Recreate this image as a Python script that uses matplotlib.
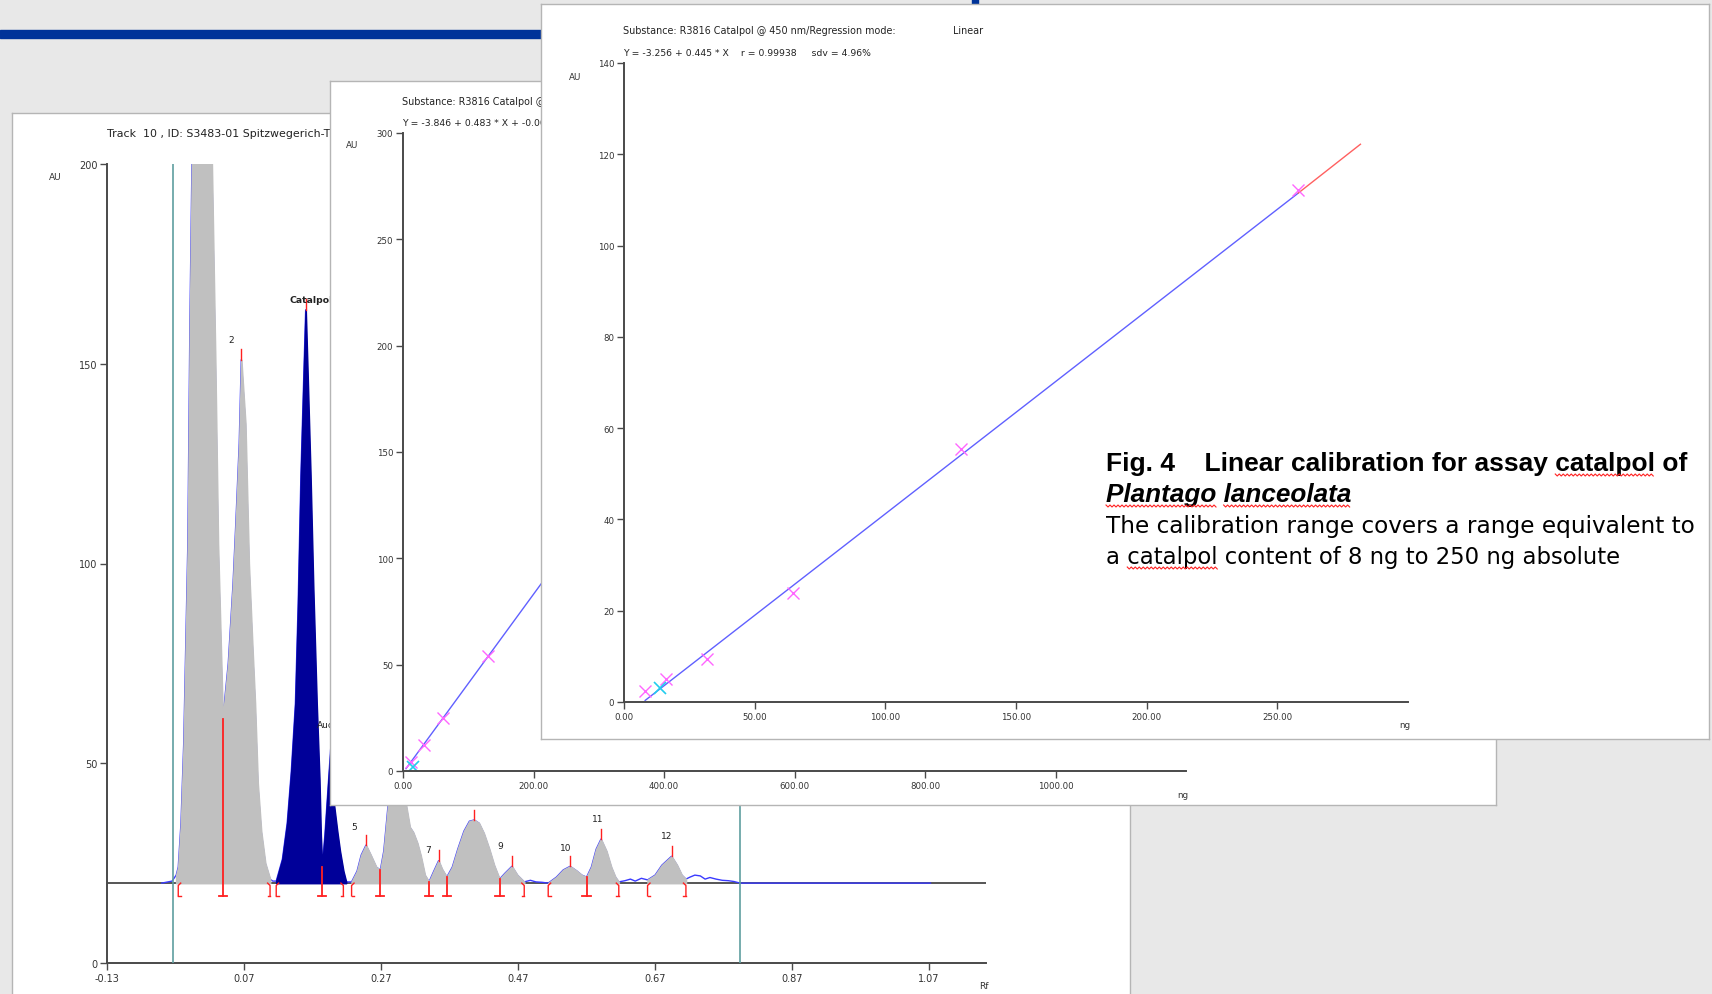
import matplotlib
matplotlib.use("Agg")
import matplotlib.pyplot as plt
import numpy as np
from matplotlib.patches import Rectangle
from matplotlib.lines import Line2D

# ---------------- data ----------------
# Chromatogram (track 10)
rf_ticks = [-0.13, 0.07, 0.27, 0.47, 0.67, 0.87, 1.07]
rf_tick_labels = ["-0.13", "0.07", "0.27", "0.47", "0.67", "0.87", "1.07"]
au_ticks = [0, 50, 100, 150, 200]
au_tick_labels = ["0", "50", "100", "150", "200"]

trace_rf = [-0.050, -0.035, -0.029, -0.026, -0.022, -0.018, -0.012, -0.009, -0.006, 0.001,
            0.010, 0.016, 0.023, 0.028, 0.032, 0.039, 0.047, 0.054, 0.058, 0.063,
            0.066, 0.072, 0.077, 0.082, 0.086, 0.090, 0.095, 0.101, 0.108, 0.112,
            0.117, 0.126, 0.133, 0.139, 0.145, 0.149, 0.153, 0.157, 0.160, 0.163,
            0.167, 0.171, 0.176, 0.180, 0.182, 0.184, 0.188, 0.193, 0.197, 0.201,
            0.206, 0.210, 0.215, 0.219, 0.227, 0.235, 0.241, 0.248, 0.255, 0.263,
            0.269, 0.274, 0.280, 0.286, 0.293, 0.301, 0.307, 0.312, 0.317, 0.323,
            0.328, 0.334, 0.340, 0.347, 0.354, 0.359, 0.366, 0.374, 0.382, 0.391,
            0.399, 0.406, 0.413, 0.420, 0.428, 0.435, 0.443, 0.451, 0.461, 0.469,
            0.479, 0.488, 0.496, 0.505, 0.514, 0.526, 0.536, 0.546, 0.556, 0.563,
            0.570, 0.577, 0.584, 0.591, 0.599, 0.606, 0.612, 0.617, 0.626, 0.634,
            0.641, 0.650, 0.659, 0.670, 0.680, 0.694, 0.702, 0.709, 0.715, 0.721,
            0.728, 0.736, 0.743, 0.750, 0.759, 0.768, 0.777, 0.785, 0.794, 1.072]
trace_au = [20.0, 20.5, 22.0, 24.0, 35.0, 55.0, 105.0, 160.0, 200.0, 235.0,
            240.0, 232.0, 200.0, 151.0, 105.0, 61.0, 75.0, 95.0, 110.0, 130.0,
            151.0, 135.0, 100.0, 80.0, 65.0, 45.0, 33.0, 25.0, 21.0, 20.5,
            20.5, 26.0, 35.0, 48.0, 65.0, 90.0, 122.0, 146.0, 163.5, 146.0,
            122.0, 94.0, 65.0, 46.0, 32.0, 24.0, 32.0, 45.0, 55.0, 40.0,
            33.0, 28.0, 23.0, 20.3, 20.3, 23.0, 27.0, 29.5, 27.0, 24.0,
            23.3, 28.0, 39.0, 50.0, 56.0, 48.0, 39.0, 34.0, 32.7, 30.0,
            26.8, 22.0, 20.3, 23.0, 25.6, 23.5, 21.5, 24.0, 28.5, 33.0,
            35.5, 35.8, 35.0, 32.5, 28.5, 24.5, 21.0, 22.5, 24.2, 22.0,
            20.3, 20.7, 20.3, 20.2, 20.0, 21.5, 23.3, 24.2, 23.0, 22.0,
            21.5, 24.0, 28.5, 31.0, 28.0, 24.0, 21.5, 20.3, 20.6, 21.0,
            20.5, 21.2, 20.8, 22.0, 24.5, 26.7, 24.5, 22.0, 21.0, 21.5,
            22.0, 21.8, 21.0, 21.4, 21.0, 20.7, 20.6, 20.4, 20.0, 20.0]
baseline_au = 20.0
gray_ranges = [(-0.029, 0.108), (0.227, 0.479), (0.514, 0.617), (0.659, 0.715)]
navy_ranges = [(0.117, 0.219)]
apex_rf = [0.066, 0.160, 0.197, 0.248, 0.293, 0.354, 0.406, 0.461, 0.546, 0.591, 0.694]
apex_au = [151.0, 163.5, 55.0, 29.5, 56.0, 25.6, 35.8, 24.2, 24.2, 31.0, 26.7]
valley_rf = [0.039, 0.184, 0.269, 0.340, 0.366, 0.443, 0.570]
valley_au = [61.0, 24.0, 23.3, 20.3, 21.5, 21.0, 21.5]
start_rf = [-0.026, 0.117, 0.227, 0.514, 0.659]
end_rf = [0.108, 0.215, 0.479, 0.617, 0.715]
track_bounds = [-0.034, 0.794]
peak_names = ["2", "Catalpol", "Aucubin", "5", "6", "7", "8", "9", "10", "11", "12"]
name_rf = [0.047, 0.136, 0.176, 0.227, 0.285, 0.334, 0.400, 0.440, 0.531, 0.578, 0.679]
name_au = [156.0, 166.0, 59.6, 34.1, 62.0, 28.4, 43.0, 29.4, 29.0, 36.2, 31.8]

# Calibration panel (middle, 0-1200 ng)
cal2_x_ticks = [0, 200, 400, 600, 800, 1000]
cal2_y_ticks = [0, 50, 100, 150, 200, 250, 300]
cal2_std_x = [11.5, 31.6, 61.8, 130.4]
cal2_std_y = [4.0, 12.4, 25.1, 53.9]
cal2_smp_x = [16.0]
cal2_smp_y = [2.0]
cal2_line_x = [4.6, 600.0]
cal2_line_y = [1.1, 251.0]

# Calibration panel (front, 0-300 ng)
cal3_x_ticks = [0, 50, 100, 150, 200, 250]
cal3_y_ticks = [0, 20, 40, 60, 80, 100, 120, 140]
cal3_std_x = [8.1, 16.0, 31.8, 64.8, 129.1, 258.0]
cal3_std_y = [2.4, 5.0, 9.5, 23.9, 55.5, 112.2]
cal3_smp_x = [13.7]
cal3_smp_y = [3.0]
cal3_fit_x = [8.1, 258.0]
cal3_fit_y = [0.35, 111.5]
cal3_ext_x = [258.0, 281.8]
cal3_ext_y = [111.5, 122.2]

caption_lines = ["Fig. 4    Linear calibration for assay catalpol of",
                 "Plantago lanceolata",
                 "The calibration range covers a range equivalent to",
                 "a catalpol content of 8 ng to 250 ng absolute"]

# ---------------- figure ----------------
W, H = 1712, 995
fig = plt.figure(figsize=(W / 100, H / 100), dpi=100, facecolor='#e8e8e8')
SMALL = ['DejaVu Sans']
renderer = fig.canvas.get_renderer()


def box(x0, y0, x1, y1):
    return [x0 / W, 1 - y1 / H, (x1 - x0) / W, (y1 - y0) / H]


def fx(x):
    return x / W


def fy(y):
    return 1 - y / H


def panel(x0, y0, x1, y1, z):
    a = fig.add_axes(box(x0, y0, x1, y1), zorder=z)
    a.set_facecolor('white')
    a.set_xticks([])
    a.set_yticks([])
    for s in a.spines.values():
        s.set_color('#b5b5b5')
        s.set_linewidth(1.0)
    return a


def style_axes(a, lsize):
    for s in ['top', 'right']:
        a.spines[s].set_visible(False)
    for s in ['left', 'bottom']:
        a.spines[s].set_color('#4a4a4a')
        a.spines[s].set_linewidth(1.4)
    a.patch.set_alpha(0)
    a.tick_params(direction='out', length=5, width=1, colors='#4a4a4a',
                  labelcolor='#333333', labelsize=lsize, pad=2)
    for lab in a.get_xticklabels() + a.get_yticklabels():
        lab.set_family(SMALL)


def fitted_text(x, y, s, target, measure=None, z=1, **kw):
    t = fig.text(fx(x), fy(y), measure if measure else s, fontsize=7, zorder=z, **kw)
    bb = t.get_window_extent(renderer)
    t.set_fontsize(7 * target / bb.width)
    t.set_text(s)
    return t


# header bar decorations
fig.add_artist(Rectangle((0, fy(39)), fx(700), (39 - 31) / H, transform=fig.transFigure,
                         color='#003399', zorder=0.5))
fig.add_artist(Rectangle((fx(972), fy(5)), fx(6), 5 / H, transform=fig.transFigure,
                         color='#003399', zorder=0.5))

# ---- panel 3 header sizes (reference for panel 2 too) ----
h1 = fig.text(0, 0, "Substance: R3816 Catalpol @ 450 nm/Regression mode:", fontsize=7, family=SMALL)
HS1 = 7 * 275 / h1.get_window_extent(renderer).width
h1.remove()
h2 = fig.text(0, 0, "Y = -3.256 + 0.445 * X    r = 0.99938     sdv = 4.96%", fontsize=7, family=SMALL)
HS2 = 7 * 247 / h2.get_window_extent(renderer).width
h2.remove()

# ---- panel 1 : chromatogram ----
panel(12, 114, 1130, 1010, 1)
fitted_text(107, 134, "Track  10 , ID: S3483-01 Spitzwegerich-Tinktur", 222,
            measure="Track  10 , ID: S3483-01 Spitzwegerich-T", z=1.5,
            family=SMALL, color='#222222', va='center')
fig.text(fx(49), fy(178), "AU", fontsize=6.5, family=SMALL, color='#333333', va='center', zorder=1.5)
fig.text(fx(979), fy(987), "Rf", fontsize=6.5, family=SMALL, color='#333333', va='center', zorder=1.5)

ax1 = fig.add_axes(box(107, 165, 986, 964), zorder=2)
ax1.set_xlim(-0.13, 1.153)
ax1.set_ylim(0, 200)
ax1.set_xticks(rf_ticks)
ax1.set_xticklabels(rf_tick_labels)
ax1.set_yticks(au_ticks)
ax1.set_yticklabels(au_tick_labels)
style_axes(ax1, 7)

trx = np.array(trace_rf)
tra = np.array(trace_au)
ax1.axhline(baseline_au, color='#555555', lw=1.4, zorder=1)
ax1.plot(trx, tra, color='#3a3aff', lw=1.0, zorder=2)
for a0, a1 in gray_ranges:
    m = (trx >= a0) & (trx <= a1)
    ax1.fill_between(trx, tra, baseline_au, where=m, facecolor='#c0c0c0', edgecolor='#c0c0c0',
                     lw=1.2, zorder=3)
for a0, a1 in navy_ranges:
    m = (trx >= a0) & (trx <= a1)
    ax1.fill_between(trx, tra, baseline_au, where=m, facecolor='#000099', edgecolor='#000099',
                     lw=1.2, zorder=3)
for b in track_bounds:
    ax1.axvline(b, color='#5f9ea0', lw=1.2, zorder=4)

RED = '#ff2020'
low = baseline_au - 3.2
foot = 0.006
for r, a in zip(apex_rf, apex_au):
    ax1.plot([r, r], [a, a + 2.6], color=RED, lw=1.0, zorder=5)
for r, a in zip(valley_rf, valley_au):
    ax1.plot([r, r], [a, low], color=RED, lw=1.3, zorder=5)
    ax1.plot([r - foot, r + foot], [low, low], color=RED, lw=1.3, zorder=5)
for r in start_rf:
    ax1.plot([r + foot * 0.6, r, r], [baseline_au, baseline_au - 0.6, low], color=RED, lw=1.0, zorder=5)
    ax1.plot([r, r + foot * 0.6], [low, low], color=RED, lw=1.0, zorder=5)
for r in end_rf:
    ax1.plot([r - foot * 0.6, r, r], [baseline_au, baseline_au - 0.6, low], color=RED, lw=1.0, zorder=5)
    ax1.plot([r, r - foot * 0.6], [low, low], color=RED, lw=1.0, zorder=5)
for nm, r, a in zip(peak_names, name_rf, name_au):
    bold = nm == 'Catalpol'
    ax1.text(r, a, nm, fontsize=6.7 if bold else 6.5, family=SMALL, color='#222222',
             ha='left', va='center', fontweight='bold' if bold else 'normal',
             clip_on=False, zorder=6)

# ---- panel 2 : calibration 0-1200 ng ----
panel(330, 82, 1496, 806, 3)
fig.text(fx(402), fy(102), "Substance: R3816 Catalpol @ 450 nm/Regression mode:", fontsize=HS1,
         family=SMALL, color='#222222', va='center', zorder=3.5)
fig.text(fx(402), fy(123), "Y = -3.846 + 0.483 * X + -0.000046 * X\u00b2   r = 0.99962", fontsize=HS2,
         family=SMALL, color='#222222', va='center', zorder=3.5)
fig.text(fx(346), fy(146), "AU", fontsize=6.3, family=SMALL, color='#333333', va='center', zorder=3.5)
fig.text(fx(1177), fy(796), "ng", fontsize=6.3, family=SMALL, color='#333333', va='center', zorder=3.5)

ax2 = fig.add_axes(box(403, 134, 1186, 772), zorder=4)
ax2.set_xlim(0, 1200)
ax2.set_ylim(0, 300)
ax2.set_xticks(cal2_x_ticks)
ax2.set_xticklabels([f"{v:.2f}" for v in cal2_x_ticks])
ax2.set_yticks(cal2_y_ticks)
ax2.set_yticklabels([str(v) for v in cal2_y_ticks])
style_axes(ax2, 6.2)
ax2.plot(cal2_line_x, cal2_line_y, color='#6060ff', lw=1.0)
ax2.plot(cal2_std_x, cal2_std_y, 'x', color='#ff66ff', ms=8, mew=1.0)
ax2.plot(cal2_smp_x, cal2_smp_y, 'x', color='#22ccee', ms=8, mew=1.2)

# ---- panel 3 : calibration 0-300 ng ----
panel(541, 5, 1709, 740, 5)
fig.text(fx(623), fy(31), "Substance: R3816 Catalpol @ 450 nm/Regression mode:", fontsize=HS1,
         family=SMALL, color='#222222', va='center', zorder=5.5)
fig.text(fx(953), fy(31), "Linear", fontsize=HS1, family=SMALL, color='#222222', va='center', zorder=5.5)
fig.text(fx(623), fy(53), "Y = -3.256 + 0.445 * X    r = 0.99938     sdv = 4.96%", fontsize=HS2,
         family=SMALL, color='#222222', va='center', zorder=5.5)
fig.text(fx(569), fy(78), "AU", fontsize=6.3, family=SMALL, color='#333333', va='center', zorder=5.5)
fig.text(fx(1399), fy(725), "ng", fontsize=6.3, family=SMALL, color='#333333', va='center', zorder=5.5)

ax3 = fig.add_axes(box(624, 64, 1408, 703), zorder=6)
ax3.set_xlim(0, 300)
ax3.set_ylim(0, 140)
ax3.set_xticks(cal3_x_ticks)
ax3.set_xticklabels([f"{v:.2f}" for v in cal3_x_ticks])
ax3.set_yticks(cal3_y_ticks)
ax3.set_yticklabels([str(v) for v in cal3_y_ticks])
style_axes(ax3, 6.2)
ax3.plot(cal3_fit_x, cal3_fit_y, color='#6060ff', lw=1.0)
ax3.plot(cal3_ext_x, cal3_ext_y, color='#ff6060', lw=1.0)
ax3.plot(cal3_std_x, cal3_std_y, 'x', color='#ff66ff', ms=8, mew=1.0)
ax3.plot(cal3_smp_x, cal3_smp_y, 'x', color='#22ccee', ms=8, mew=1.2)

# ---- caption ----
cap_x = 1106
cap_base = [471, 502, 533, 564]
cap_width = [581, 246, 591, 518]
cap_props = [dict(family=['Liberation Sans', 'DejaVu Sans'], fontweight='bold'),
             dict(family=['Liberation Sans', 'DejaVu Sans'], fontweight='bold', fontstyle='italic'),
             dict(family=['DejaVu Sans'], fontweight='normal'),
             dict(family=['DejaVu Sans'], fontweight='normal')]
cap_texts = []
for s, yb, wt, pr in zip(caption_lines, cap_base, cap_width, cap_props):
    t = fig.text(fx(cap_x), fy(yb), s, fontsize=14, color='black', va='baseline', ha='left',
                 zorder=8, **pr)
    bb = t.get_window_extent(renderer)
    t.set_fontsize(14 * wt / bb.width)
    cap_texts.append(t)


def text_width(s, t):
    tmp = fig.text(0, 0, s, fontsize=t.get_fontsize(), family=t.get_family(),
                   fontweight=t.get_fontweight(), fontstyle=t.get_fontstyle())
    w = tmp.get_window_extent(renderer).width
    tmp.remove()
    return w


def squiggle(line_idx, prefix_with_word, word):
    t = cap_texts[line_idx]
    x_end = cap_x + text_width(prefix_with_word, t)
    x_start = x_end - text_width(word, t)
    yb = cap_base[line_idx] + 4
    xs = np.arange(x_start, x_end + 0.1, 2.0)
    ys = yb + (np.arange(len(xs)) % 2) * 2.0
    fig.add_artist(Line2D(xs / W, 1 - ys / H, transform=fig.transFigure, color='#ff2020',
                          lw=0.8, zorder=9))


squiggle(0, "Fig. 4    Linear calibration for assay catalpol", "catalpol")
squiggle(1, "Plantago", "Plantago")
squiggle(1, "Plantago lanceolata", "lanceolata")
squiggle(3, "a catalpol", "catalpol")

fig.savefig("out.png", dpi=100, facecolor=fig.get_facecolor())
